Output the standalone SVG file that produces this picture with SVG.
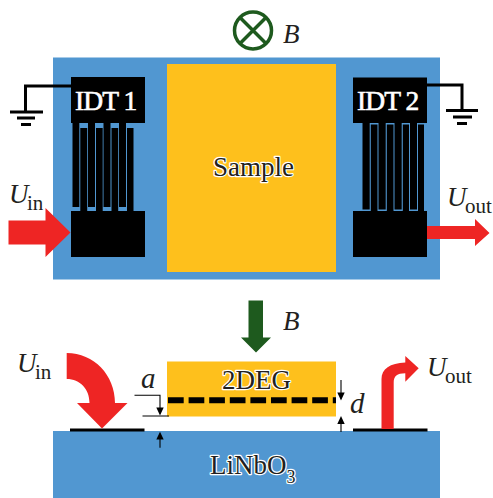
<svg xmlns="http://www.w3.org/2000/svg" width="493" height="498" viewBox="0 0 493 498">
<style>
.t{font-family:"Liberation Serif",serif;fill:#231f20}
.v{font-style:italic;font-size:27px}
.s{font-size:21px}
.o{font-family:"Liberation Serif",serif;font-size:27px;fill:#231f20;stroke:#fff;stroke-width:2.400px;paint-order:stroke;stroke-linejoin:round}
.w{font-family:"Liberation Serif",serif;font-size:27.500px;fill:#fff;stroke:#fff;stroke-width:.6px;letter-spacing:-.9px}
.blue{fill:#5197d1}
.gold{fill:#fec01c}
.red{fill:#ee2524}
.g{fill:#1e5a1e}
.k{fill:#000}
.l{stroke:#000;fill:none}
</style>
<rect width="493" height="498" fill="#fff"/>
<g id="substrate-top"><rect class="blue" x="53" y="57.500" width="387" height="222"/></g>
<g id="sample"><rect class="gold" x="167" y="64" width="169" height="208"/>
<text class="o" x="253.500" y="176" text-anchor="middle">Sample</text></g>
<g id="idt1">
<rect class="k" x="71" y="77" width="74" height="46"/>
<rect class="k" x="71" y="211" width="74" height="46"/>
<path class="k" d="M72.500 123h6.800v84h-6.800zM88 123h7v84h-7zM103.500 123h7v84h-7zM119 123h7v84h-7zM80.300 128h6.900v83h-6.900zM96 128h6.700v83H96zM111.500 128h6.700v83h-6.700zM127 128h6.500v83H127z"/>
<text class="w" x="75" y="109.500">IDT 1</text>
</g>
<g id="idt2">
<rect class="k" x="353" y="77.500" width="74" height="45.500"/>
<rect class="k" x="353" y="211" width="74" height="46"/>
<path class="k" d="M362.500 123h7.200v86.500h-7.200zM378.500 123h7.200v86.500h-7.200zM394.500 123h7.200v86.500h-7.200zM410 123h7v86.500h-7zM370.800 124.500h6.700v86.500h-6.700zM386.800 124.500h6.700v86.500h-6.700zM402.800 124.500h6.200v86.500h-6.200zM418 124.500h6v86.500h-6z"/>
<text class="w" x="357" y="109.500">IDT 2</text>
</g>
<g id="ground1"><path class="l" stroke-width="3" d="M72 86H25.500V112"/><path class="l" stroke-width="3" d="M10 112H43M17 118H35M21 124.500H31"/></g>
<g id="ground2"><path class="l" stroke-width="3" d="M427 85H462V110"/><path class="l" stroke-width="3" d="M446 110.500H478M453 117H472M457 123.500H467"/></g>
<g id="uin-top"><path class="red" d="M8.500 220.500H45.500V208L70.500 232.500L45.500 257V244.500H8.500Z"/>
<text class="t v" x="9" y="202.500">U</text><text class="t s" x="27" y="210">in</text></g>
<g id="uout-top"><path class="red" d="M427 226H475V219L489.500 233L475 246V239H427Z"/>
<text class="t v" x="447" y="206">U</text><text class="t s" x="465" y="213">out</text></g>
<g id="field-top"><circle cx="253" cy="30.500" r="18.500" fill="none" stroke="#1e5a1e" stroke-width="3.500"/><path d="M240 17.500L266 43.500M266 17.500L240 43.500" stroke="#1e5a1e" stroke-width="3.500"/>
<text class="t v" x="283" y="43">B</text></g>
<g id="field-bottom"><path class="g" d="M248.500 300.500H263V337.500H271L256 352.500L241 337.500H248.500Z"/>
<text class="t v" x="283" y="330">B</text></g>
<g id="twodeg"><rect class="gold" x="167" y="361.500" width="169" height="55"/>
<text class="o" x="222" y="389">2DEG</text>
<path class="l" stroke-width="6" stroke-dasharray="15.700 4.900" d="M168 400.300H336"/></g>
<g id="substrate-bottom"><rect class="blue" x="53" y="431" width="387" height="67"/>
<text class="o" x="210" y="474">LiNbO<tspan font-size="18" dy="9">3</tspan></text></g>
<g id="electrodes"><rect class="k" x="70" y="428.500" width="74.500" height="3"/><rect class="k" x="353" y="428.500" width="74.500" height="3"/></g>
<g id="uin-bottom"><path class="red" d="M66.700 353C94 353 115 375 115 403H127.500L102 428.500L77 403H89.500C89.500 389 80 379 66.700 379Z"/>
<text class="t v" x="17" y="372">U</text><text class="t s" x="35" y="379">in</text></g>
<g id="uout-bottom"><path class="red" d="M381.500 429V379C381.500 369 390 363 405.300 362.500V356L418.700 368.300L405.300 381.700V373.300C397 373.500 393.700 376 393.700 383V429Z"/>
<text class="t v" x="427" y="376">U</text><text class="t s" x="445" y="383">out</text></g>
<g id="gap-a"><path class="l" stroke-width="1.100" d="M134.500 395.300H160V408M142.500 416H169M160 438V447.700"/><path class="k" d="M156.300 407.500H163.700L160 415.500ZM156.300 439.500H163.700L160 431.700Z"/>
<text class="t v" x="141" y="388" style="font-size:29px">a</text></g>
<g id="gap-d"><path class="l" stroke-width="1.100" d="M341 380V393M341 423V432"/><path class="k" d="M337.300 392.500H344.700L341 400.500ZM337.300 424H344.700L341 416Z"/>
<text class="t v" x="350" y="413" style="font-size:29px">d</text></g>
</svg>
